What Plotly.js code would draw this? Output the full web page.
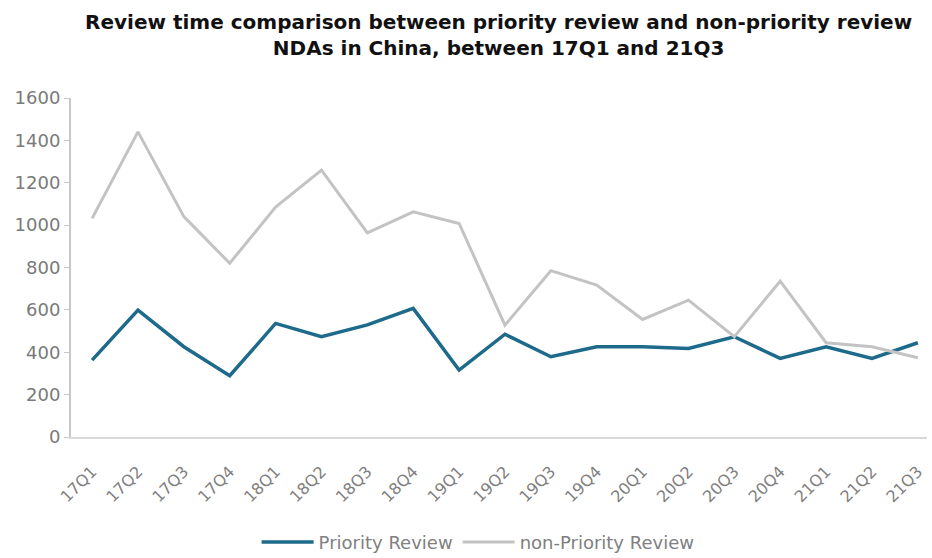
<!DOCTYPE html>
<html>
<head>
<meta charset="utf-8">
<script src="https://cdn.plot.ly/plotly-3.0.1.min.js"></script>
<style>html,body{margin:0;padding:0;background:#fff;}#chart{width:932px;height:558px;}</style>
</head>
<body>
<div id="chart"></div>
<script>
const quarters = ["17Q1","17Q2","17Q3","17Q4","18Q1","18Q2","18Q3","18Q4","19Q1","19Q2","19Q3","19Q4","20Q1","20Q2","20Q3","20Q4","21Q1","21Q2","21Q3"];
const priorityReview = [363,599,426,289,536,473,529,607,316,485,379,426,426,418,473,371,426,371,445];
const nonPriorityReview = [1032,1440,1040,820,1085,1260,963,1063,1008,528,785,717,555,646,473,736,445,426,374];
const yTicks = [0,200,400,600,800,1000,1200,1400,1600];

const traces = [
  {x: quarters, y: priorityReview, name: "Priority Review", type: "scatter", mode: "lines",
   line: {color: "#1d6a8b", width: 3.5}},
  {x: quarters, y: nonPriorityReview, name: "non-Priority Review", type: "scatter", mode: "lines",
   line: {color: "#c3c3c3", width: 3}}
];

const layout = {
  width: 932, height: 558,
  margin: {l: 71, r: 5, t: 98, b: 121},
  paper_bgcolor: "#fff", plot_bgcolor: "#fff",
  title: {text: "<b>Review time comparison between priority review and non-priority review<br>NDAs in China, between 17Q1 and 21Q3</b>",
          font: {family: "DejaVu Sans, sans-serif", size: 20, color: "#111"},
          xref: "container", yref: "container",
          x: 0.535, xanchor: "center", y: 0.948, yanchor: "top"},
  xaxis: {type: "category", range: [-0.46, 18.2], showgrid: false, zeroline: false,
          showline: true, linecolor: "#d9d9d9", linewidth: 2, ticks: "",
          tickangle: -45, automargin: false, ticklabelstandoff: 17,
          tickfont: {family: "DejaVu Sans, sans-serif", size: 16, color: "#808080"}},
  yaxis: {range: [0, 1600], tickvals: yTicks, showgrid: false, zeroline: false, automargin: false,
          showline: true, linecolor: "#c8c8c8", linewidth: 2, ticks: "outside", ticklen: 5, tickcolor: "#c8c8c8",
          tickfont: {family: "DejaVu Sans, sans-serif", size: 18, color: "#7a7a7a"}},
  showlegend: true,
  legend: {orientation: "h", xref: "container", yref: "container",
           x: 0.513, xanchor: "center", y: 0.028, yanchor: "middle",
           font: {family: "DejaVu Sans, sans-serif", size: 18, color: "#808080"},
           itemwidth: 52, tracegroupgap: 0}
};

Plotly.newPlot("chart", traces, layout, {displayModeBar: false, staticPlot: true}).then(function () {
  document.querySelectorAll("#chart .legend .legendlines path").forEach(function (p) {
    p.setAttribute("d", "M5,0h52");
  });
});
</script>
</body>
</html>
